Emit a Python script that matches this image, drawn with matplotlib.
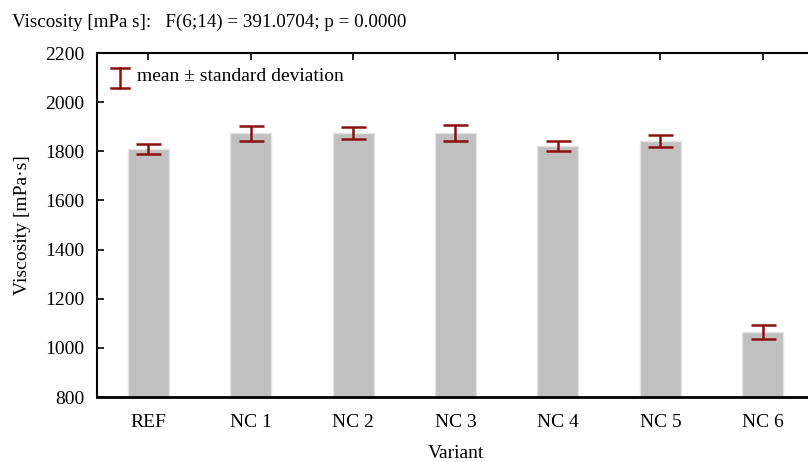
import matplotlib
matplotlib.use('Agg')
import matplotlib.pyplot as plt
import numpy as np

# Mean viscosity and standard deviation per variant
variants = ['REF', 'NC 1', 'NC 2', 'NC 3', 'NC 4', 'NC 5', 'NC 6']
means = [1810, 1873, 1875, 1874, 1823, 1841, 1065]
sds = [20, 30, 25, 33, 20, 25, 30]

y_ticks = [800, 1000, 1200, 1400, 1600, 1800, 2000, 2200]

BAR_COLOR = '#c0c0c0'
ERR_COLOR = '#8b1010'

plt.rcParams['font.family'] = ['Liberation Serif', 'DejaVu Serif']

fig = plt.figure(figsize=(8.08, 4.62), dpi=100)
ax = fig.add_axes([97 / 808, 65 / 462, 717 / 808, 344 / 462])

x = np.arange(len(variants))
ax.bar(x, means, width=0.4, color=BAR_COLOR, edgecolor='#e4e4e4', linewidth=1, zorder=2)
ax.errorbar(x, means, yerr=sds, fmt='none', ecolor=ERR_COLOR, elinewidth=1.8,
            capsize=9, capthick=1.8, zorder=3)

ax.set_xlim(-0.5, 6.5)
ax.set_ylim(800, 2200)
ax.set_xticks(x)
ax.set_xticklabels(variants)
ax.set_yticks(y_ticks)
ax.tick_params(direction='in', length=5, width=1.2, labelsize=14, top=True, colors='black')
ax.tick_params(axis='x', pad=12)
ax.tick_params(axis='y', pad=9)

ax.spines['right'].set_visible(False)
ax.spines['bottom'].set_linewidth(2)
ax.spines['left'].set_linewidth(1.5)
ax.spines['top'].set_linewidth(1.5)

ax.set_xlabel('Variant', fontsize=14, labelpad=10)
ax.set_ylabel('Viscosity [mPa·s]', fontsize=14, labelpad=10)

fig.text(12 / 808, 1 - 22 / 462, 'Viscosity [mPa s]:   F(6;14) = 391.0704; p = 0.0000',
         fontsize=13.7, va='center', ha='left')

# Legend symbol: an errorbar glyph drawn in axes coordinates
lx, ly0, ly1, cap = 0.0321, 0.898, 0.956, 0.013
ax.plot([lx, lx], [ly0, ly1], color=ERR_COLOR, lw=1.8, transform=ax.transAxes, clip_on=False)
ax.plot([lx - cap, lx + cap], [ly0, ly0], color=ERR_COLOR, lw=1.8, transform=ax.transAxes, clip_on=False)
ax.plot([lx - cap, lx + cap], [ly1, ly1], color=ERR_COLOR, lw=1.8, transform=ax.transAxes, clip_on=False)
ax.text(0.056, 0.932, 'mean ± standard deviation', fontsize=14, va='center', ha='left',
        transform=ax.transAxes)

fig.savefig('out.png', dpi=100)
